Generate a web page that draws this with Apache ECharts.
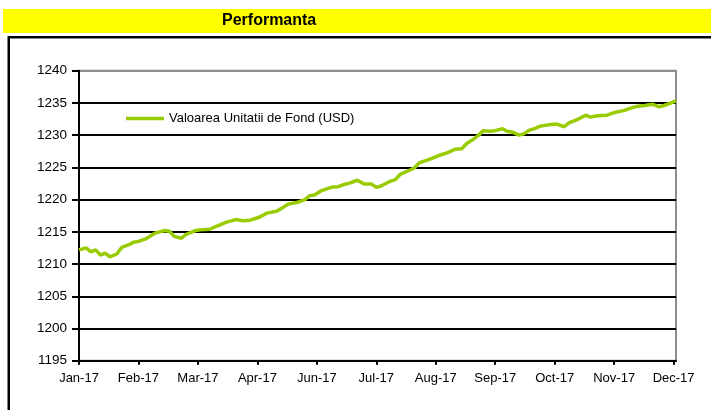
<!DOCTYPE html>
<html>
<head>
<meta charset="utf-8">
<script src="https://cdn.jsdelivr.net/npm/echarts@6/dist/echarts.min.js"></script>
<style>
html,body{margin:0;padding:0;background:#fff;}
#c{width:711px;height:410px;}
</style>
</head>
<body>
<div id="c"></div>
<script>
const titleText = 'Performanta';
const seriesName = 'Valoarea Unitatii de Fond (USD)';
const tickLabels = ['Jan-17','Feb-17','Mar-17','Apr-17','Jun-17','Jul-17','Aug-17','Sep-17','Oct-17','Nov-17','Dec-17'];
const tickPositions = [0,25,50,75,100,125,150,175,200,225,250];
const dayIndex = [0,3,5,7,9,11,13,16,18,21,23,25,28,32,36,38,40,43,45,49,51,55,58,62,66,69,72,76,79,83,85,88,92,95,97,99,102,106,109,111,114,117,120,123,125,127,130,133,135,138,141,143,147,151,155,158,161,163,166,168,170,173,175,178,180,182,185,187,189,192,194,199,201,204,206,210,213,215,218,222,225,229,232,235,238,241,244,246,249,251];
const navValues = [1212.2,1212.5,1211.9,1212.2,1211.4,1211.7,1211.1,1211.6,1212.6,1213.0,1213.4,1213.5,1213.9,1214.8,1215.2,1215.1,1214.3,1214.0,1214.6,1215.2,1215.3,1215.4,1215.9,1216.5,1216.9,1216.7,1216.8,1217.3,1217.9,1218.2,1218.6,1219.3,1219.6,1220.0,1220.6,1220.7,1221.4,1221.9,1222.0,1222.3,1222.6,1223.0,1222.4,1222.4,1221.9,1222.1,1222.7,1223.1,1223.9,1224.4,1224.9,1225.7,1226.2,1226.8,1227.3,1227.8,1227.9,1228.7,1229.4,1230.0,1230.7,1230.6,1230.7,1231.0,1230.6,1230.5,1230.0,1230.2,1230.7,1231.1,1231.4,1231.7,1231.7,1231.3,1231.9,1232.5,1233.1,1232.8,1233.0,1233.1,1233.5,1233.8,1234.2,1234.5,1234.6,1234.8,1234.4,1234.6,1235.0,1235.3];
const yMin = 1195, yMax = 1240, yStep = 5;

const chart = echarts.init(document.getElementById('c'), null, {renderer:'canvas'});
const data = dayIndex.map((d,i)=>[d, navValues[i]]);
const nLines = (yMax - yMin)/yStep + 1;
const splitColors = [];
for (let i=0;i<nLines;i++) splitColors.push(i===nLines-1 ? '#8c8c8c' : '#000');

chart.setOption({
  animation:false,
  textStyle:{fontFamily:'Liberation Sans, Arial, sans-serif'},
  graphic:[
    {type:'rect', shape:{x:3,y:9,width:720,height:24}, style:{fill:'#ffff00'}, z:0},
    {type:'text', left:222, top:13, style:{text:titleText, font:'bold 16px "Liberation Sans", Arial, sans-serif', fill:'#000'}, z:1},
    {type:'rect', shape:{x:8.75,y:37.25,width:720,height:400}, style:{fill:'none', stroke:'#000', lineWidth:2.5}, z:0}
  ],
  grid:{left:79, right:35, top:70.7, bottom:49.3, show:true, borderColor:'#8c8c8c', borderWidth:2, backgroundColor:'transparent'},
  legend:{
    left:121, top:107, icon:'rect', itemWidth:38, itemHeight:3.5,
    textStyle:{fontSize:13, color:'#000', fontFamily:'Liberation Sans, Arial, sans-serif'},
    data:[seriesName]
  },
  xAxis:{
    type:'value', min:0, max:251,
    axisLine:{show:true, lineStyle:{color:'#000', width:2}},
    axisTick:{show:true, length:4, lineStyle:{color:'#000', width:2}, customValues:tickPositions},
    axisLabel:{customValues:tickPositions, margin:11, fontSize:13, color:'#000',
      formatter:(v)=>{const k=tickPositions.indexOf(v); return k>=0?tickLabels[k]:'';}},
    splitLine:{show:false}
  },
  yAxis:{
    type:'value', min:yMin, max:yMax, interval:yStep,
    axisLine:{show:true, lineStyle:{color:'#000', width:2}},
    axisTick:{show:true, length:7, lineStyle:{color:'#000', width:2}},
    axisLabel:{margin:12, fontSize:13.5, color:'#000', formatter:(v)=>String(v)},
    splitLine:{show:true, lineStyle:{color:splitColors, width:2}}
  },
  series:[{
    name:seriesName, type:'line', data:data, showSymbol:false, symbol:'none',
    lineStyle:{color:'#99cc00', width:3.5}, itemStyle:{color:'#99cc00'}, z:5
  }]
});
</script>
</body>
</html>
